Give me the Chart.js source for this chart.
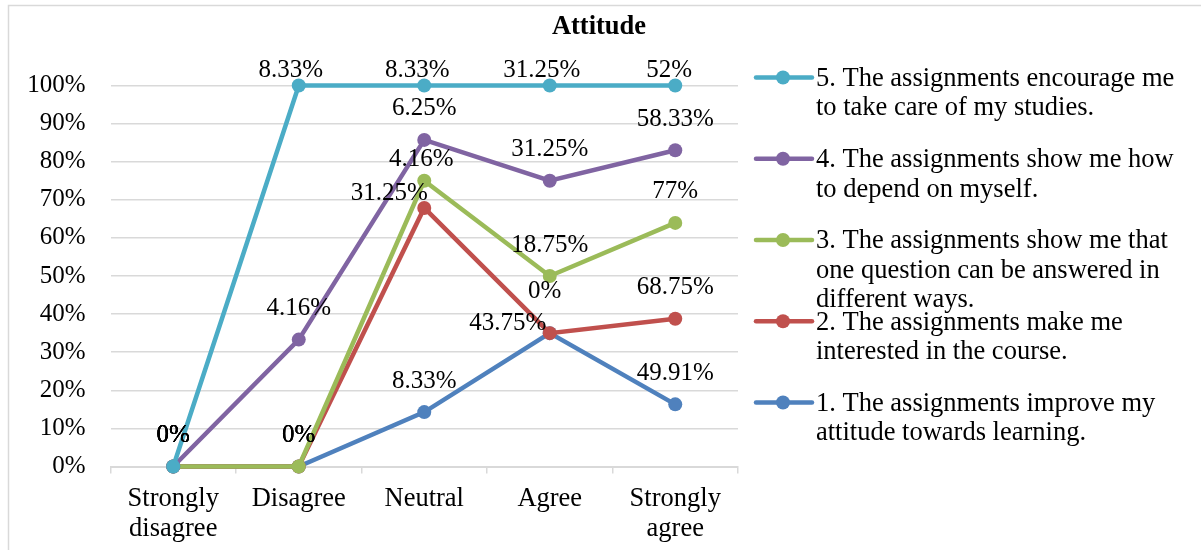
<!DOCTYPE html>
<html>
<head>
<meta charset="utf-8">
<script src="https://cdn.jsdelivr.net/npm/chart.js@4.4.1/dist/chart.umd.min.js"></script>
<style>
html,body{margin:0;padding:0;background:#fff;}
#wrap{width:1201px;height:550px;position:relative;}
canvas{display:block;}
</style>
</head>
<body>
<div id="wrap"><canvas id="c" width="1201" height="550"></canvas></div>
<script>
// ---- data ----
const categories = [['Strongly', 'disagree'], 'Disagree', 'Neutral', 'Agree', ['Strongly', 'agree']];
const seriesNames = [
  '1. The assignments improve my attitude towards learning.',
  '2. The assignments make me interested in the course.',
  '3. The assignments show me that one question can be answered in different ways.',
  '4. The assignments show me how to depend on myself.',
  '5. The assignments encourage me to take care of my studies.'
];
const series1 = [0, 0, 8.33, 43.75, 49.91];
const series2 = [0, 0, 31.25, 0, 68.75];
const series3 = [0, 0, 4.16, 18.75, 77];
const series4 = [0, 4.16, 6.25, 31.25, 58.33];
const series5 = [0, 8.33, 8.33, 31.25, 52];
const yTickValues = [0, 10, 20, 30, 40, 50, 60, 70, 80, 90, 100];
const titleText = 'Attitude';

// ---- styles ----
const rawSeries = [series1, series2, series3, series4, series5];
const colors = ['#4F81BD', '#C0504D', '#9BBB59', '#8064A2', '#4BACC6'];
const FONT = "'Liberation Serif', 'Times New Roman', serif";
const FS = 25;      // numbers
const FST = 26.5;   // words
// label nudges [dx, dy] relative to point; default [0,-31]
const labelNudges = {
  '4-1': [-8, -15], '4-2': [-7, -15], '4-3': [-8, -15], '4-4': [-6, -15],
  '2-2': [-3, -21], '1-2': [-35, -14], '1-3': [-5, -42], '0-3': [-42, -10]
};

// 100% stacked line: cumulative share of each category total
const totals = categories.map((_, i) => rawSeries.reduce((a, s) => a + s[i], 0));
const shares = rawSeries.map(s => s.map((v, i) => totals[i] ? v / totals[i] * 100 : 0));
const cumulative = shares.map((s, k) => s.map((_, i) => {
  let acc = 0;
  for (let j = 0; j <= k; j++) acc += shares[j][i];
  return Math.min(acc, 100);
}));

const datasets = rawSeries.map((s, k) => ({
  label: seriesNames[k],
  data: cumulative[k],
  borderColor: colors[k],
  backgroundColor: colors[k],
  pointBackgroundColor: colors[k],
  pointBorderColor: colors[k],
  borderWidth: 4.5,
  pointRadius: 7,
  pointBorderWidth: 0,
  tension: 0,
  fill: false,
  clip: false,
  order: 5 - k
}));

const bgPlugin = {
  id: 'bg',
  beforeDraw(chart) {
    const ctx = chart.ctx;
    ctx.save();
    ctx.fillStyle = '#fff';
    ctx.fillRect(0, 0, chart.width, chart.height);
    ctx.strokeStyle = '#d9d9d9';
    ctx.lineWidth = 1.5;
    ctx.strokeRect(8.5, 5.5, 1220, 580);
    ctx.fillStyle = '#000';
    ctx.font = 'bold ' + FST + 'px ' + FONT;
    ctx.textAlign = 'center';
    ctx.textBaseline = 'middle';
    ctx.fillText(titleText, 599, 27.5);
    ctx.restore();
  }
};

const labelPlugin = {
  id: 'dlabels',
  afterDatasetsDraw(chart) {
    const ctx = chart.ctx;
    ctx.save();
    ctx.font = FS + 'px ' + FONT;
    ctx.fillStyle = '#000';
    ctx.textAlign = 'center';
    ctx.textBaseline = 'middle';
    rawSeries.forEach((s, k) => {
      const meta = chart.getDatasetMeta(k);
      meta.data.forEach((pt, i) => {
        const n = labelNudges[k + '-' + i] || [0, -31];
        ctx.fillText(s[i] + '%', pt.x + n[0], pt.y + n[1]);
      });
    });
    ctx.restore();
  }
};

const legendPlugin = {
  id: 'customLegend',
  afterDraw(chart) {
    const ctx = chart.ctx;
    ctx.save();
    ctx.font = FST + 'px ' + FONT;
    const maxW = 370;
    const x0 = 756, x1 = 812, cx = 783, tx = 816;
    const y0 = 79, itemGap = 81.25, lineGap = 29.3;
    for (let idx = 0; idx < seriesNames.length; idx++) {
      const k = seriesNames.length - 1 - idx;
      const y = y0 + idx * itemGap;
      ctx.strokeStyle = colors[k];
      ctx.lineWidth = 4.5;
      ctx.lineCap = 'round';
      ctx.beginPath();
      ctx.moveTo(x0, y - 1.5);
      ctx.lineTo(x1, y - 1.5);
      ctx.stroke();
      ctx.fillStyle = colors[k];
      ctx.beginPath();
      ctx.arc(cx, y - 1.5, 7, 0, Math.PI * 2);
      ctx.fill();
      const words = seriesNames[k].split(' ');
      const lines = [];
      let cur = '';
      words.forEach(w => {
        const t = cur ? cur + ' ' + w : w;
        if (ctx.measureText(t).width > maxW && cur) { lines.push(cur); cur = w; }
        else cur = t;
      });
      if (cur) lines.push(cur);
      ctx.fillStyle = '#000';
      ctx.textAlign = 'left';
      ctx.textBaseline = 'middle';
      lines.forEach((ln, j) => ctx.fillText(ln, tx, y + j * lineGap));
    }
    ctx.restore();
  }
};

new Chart(document.getElementById('c'), {
  type: 'line',
  data: { labels: categories, datasets: datasets },
  options: {
    responsive: false,
    animation: false,
    devicePixelRatio: 1,
    layout: { padding: { left: 0, right: 463, top: 85.5, bottom: 0 } },
    plugins: {
      legend: { display: false },
      tooltip: { enabled: false },
      title: { display: false }
    },
    scales: {
      x: {
        type: 'category',
        offset: true,
        grid: { drawOnChartArea: false, drawTicks: true, tickLength: 7, offset: true, color: '#d9d9d9', lineWidth: 1.5 },
        border: { display: true, color: '#d9d9d9', width: 2 },
        ticks: { color: '#000', font: { family: FONT, size: FST, lineHeight: '30px' }, padding: 11, maxRotation: 0, autoSkip: false },
        afterFit(s) { s.height = 550 - 466.5; }
      },
      y: {
        min: 0,
        max: 100,
        grid: { drawTicks: false, color: '#d9d9d9', lineWidth: 1.5 },
        border: { display: false },
        ticks: { color: '#000', font: { family: FONT, size: FS }, padding: 25, callback: v => v + '%' },
        afterBuildTicks(s) { s.ticks = yTickValues.map(v => ({ value: v })); },
        afterFit(s) { s.width = 110.5; }
      }
    }
  },
  plugins: [bgPlugin, labelPlugin, legendPlugin]
});
</script>
</body>
</html>
